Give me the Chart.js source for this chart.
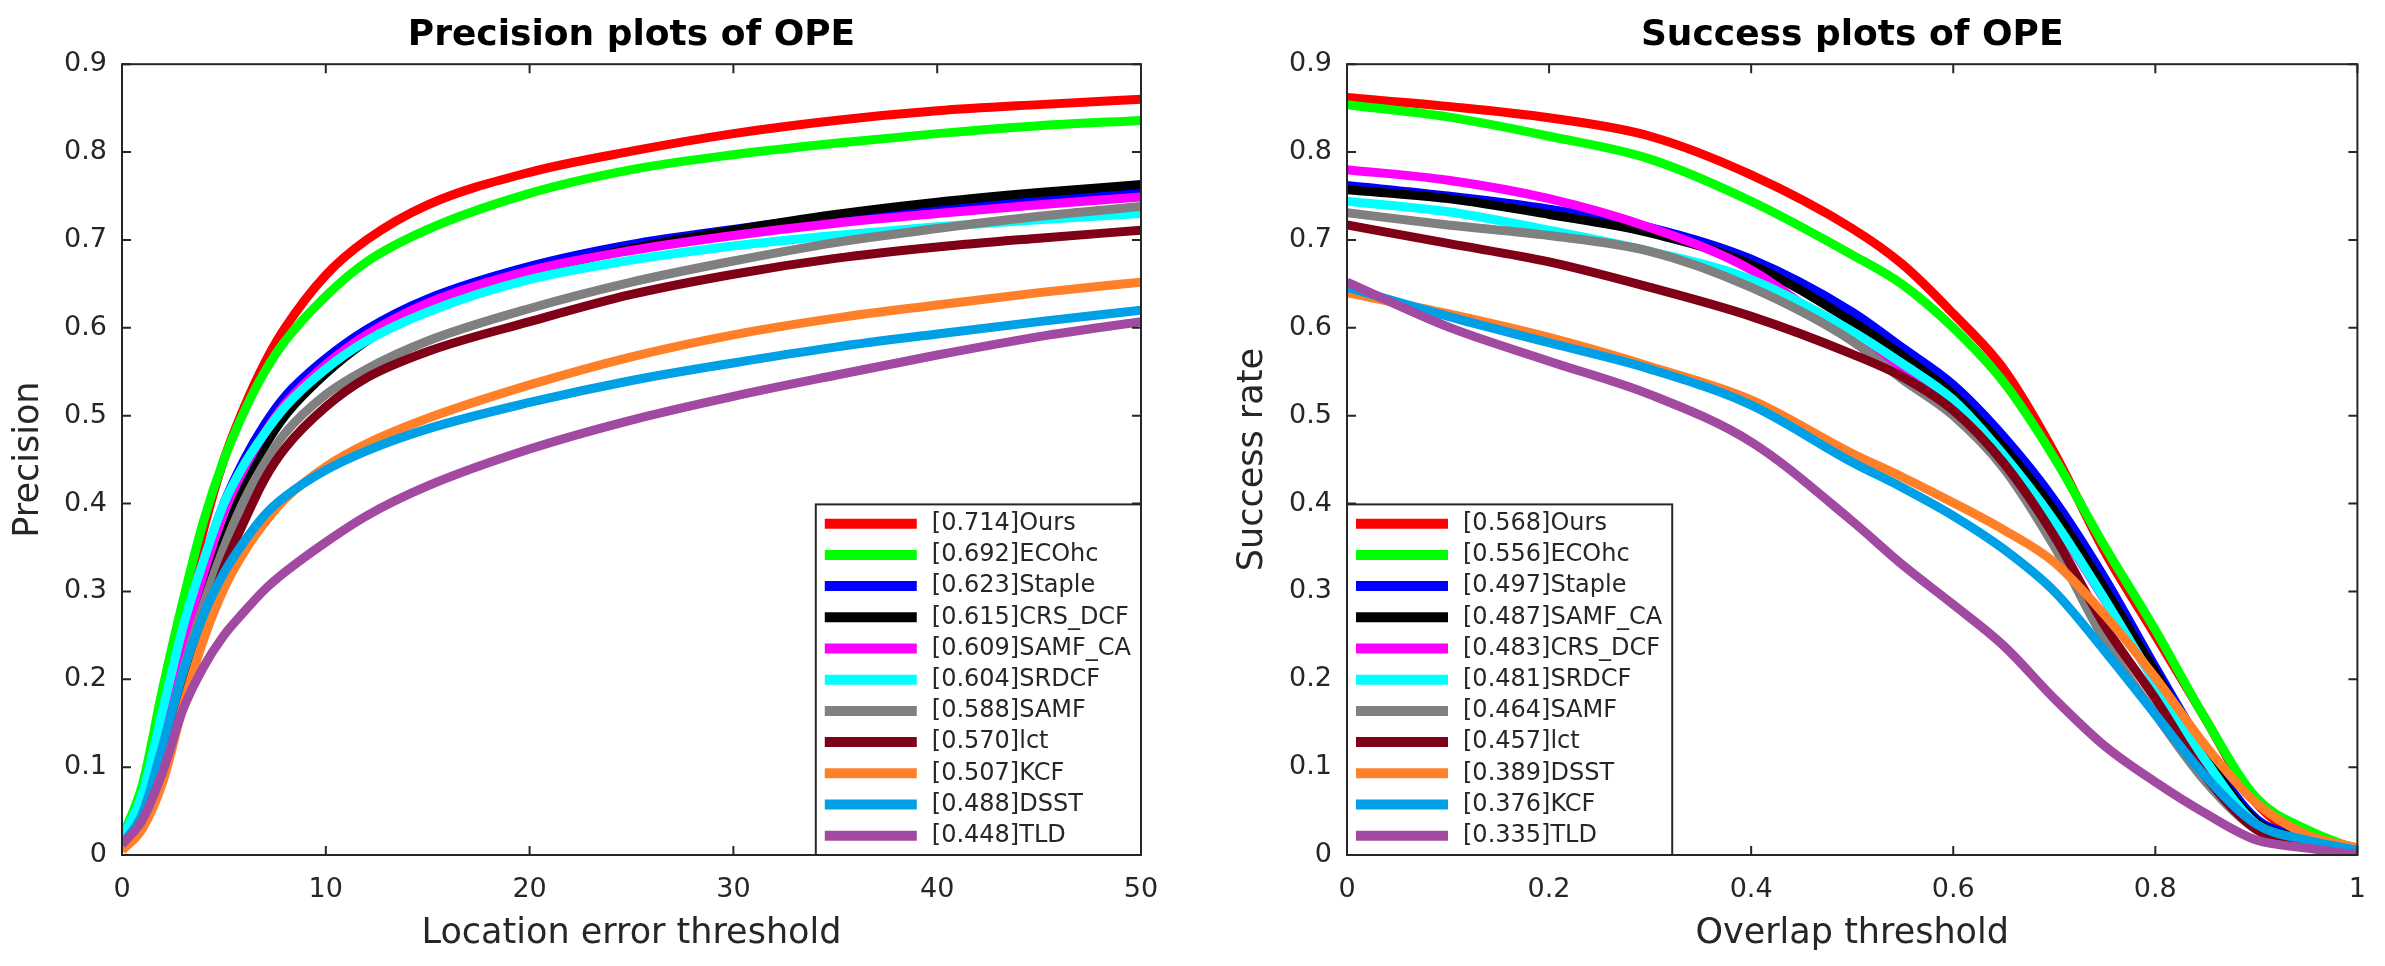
<!DOCTYPE html>
<html>
<head>
<meta charset="utf-8">
<script src="https://cdn.jsdelivr.net/npm/chart.js@4.4.1/dist/chart.umd.min.js"></script>
<style>
  html, body { margin: 0; padding: 0; background: #fff; }
  #wrap { position: relative; width: 2385px; height: 966px; }
  .pane { position: absolute; top: 0; height: 966px; }
  #left { left: 0; width: 1190px; }
  #right { left: 1190px; width: 1195px; }
</style>
</head>
<body>
<div id="wrap">
  <div class="pane" id="left"><canvas id="precChart"></canvas></div>
  <div class="pane" id="right"><canvas id="succChart"></canvas></div>
</div>
<script>
// colours go by rank, same in both plots
const rankColors = ['#ff0000', '#00ff00', '#0000ff', '#000000', '#ff00ff', '#00ffff',
                    '#808080', '#800018', '#ff8028', '#00a0e6', '#a24aa2'];

// ---- precision plot (location error threshold 0..50)
const precTrackers = ['Ours', 'ECOhc', 'Staple', 'CRS_DCF', 'SAMF_CA', 'SRDCF', 'SAMF', 'lct', 'KCF', 'DSST', 'TLD'];
const precScores = [0.714, 0.692, 0.623, 0.615, 0.609, 0.604, 0.588, 0.570, 0.507, 0.488, 0.448];
const precX = [0, 1, 2, 3, 4, 5, 6, 7, 8, 10, 12, 15, 20, 25, 30, 35, 40, 45, 50];
const precOurs    = [0.015, 0.065, 0.17, 0.27, 0.37, 0.45, 0.51, 0.56, 0.60, 0.66, 0.70, 0.74, 0.777, 0.801, 0.821, 0.836, 0.847, 0.854, 0.86];
const precECOhc   = [0.02, 0.08, 0.19, 0.29, 0.38, 0.45, 0.505, 0.55, 0.585, 0.636, 0.675, 0.712, 0.753, 0.78, 0.797, 0.81, 0.821, 0.83, 0.836];
const precStaple  = [0.015, 0.06, 0.15, 0.25, 0.333, 0.40, 0.45, 0.49, 0.522, 0.565, 0.598, 0.633, 0.67, 0.695, 0.712, 0.727, 0.738, 0.747, 0.755];
const precCRS_DCF = [0.015, 0.05, 0.12, 0.21, 0.29, 0.36, 0.42, 0.465, 0.50, 0.548, 0.585, 0.625, 0.663, 0.69, 0.711, 0.729, 0.743, 0.754, 0.763];
const precSAMF_CA = [0.015, 0.055, 0.14, 0.24, 0.32, 0.39, 0.44, 0.48, 0.513, 0.558, 0.592, 0.628, 0.665, 0.688, 0.705, 0.719, 0.73, 0.74, 0.749];
const precSRDCF   = [0.018, 0.07, 0.165, 0.26, 0.335, 0.40, 0.445, 0.48, 0.51, 0.553, 0.585, 0.618, 0.655, 0.677, 0.693, 0.705, 0.715, 0.723, 0.73];
const precSAMF    = [0.012, 0.045, 0.12, 0.21, 0.285, 0.35, 0.404, 0.446, 0.48, 0.524, 0.553, 0.585, 0.622, 0.652, 0.676, 0.697, 0.713, 0.727, 0.738];
const precLct     = [0.01, 0.04, 0.11, 0.19, 0.26, 0.327, 0.38, 0.428, 0.463, 0.51, 0.543, 0.573, 0.607, 0.638, 0.661, 0.679, 0.692, 0.702, 0.711];
const precKCF     = [0.005, 0.03, 0.083, 0.17, 0.245, 0.303, 0.345, 0.378, 0.405, 0.442, 0.468, 0.497, 0.535, 0.567, 0.592, 0.611, 0.626, 0.64, 0.652];
const precDSST    = [0.012, 0.047, 0.125, 0.208, 0.273, 0.321, 0.357, 0.387, 0.408, 0.438, 0.46, 0.485, 0.515, 0.54, 0.56, 0.578, 0.593, 0.607, 0.62];
const precTLD     = [0.012, 0.04, 0.095, 0.166, 0.214, 0.25, 0.277, 0.302, 0.322, 0.356, 0.386, 0.42, 0.462, 0.495, 0.522, 0.546, 0.569, 0.59, 0.607];
const precCurves = [precOurs, precECOhc, precStaple, precCRS_DCF, precSAMF_CA, precSRDCF, precSAMF, precLct, precKCF, precDSST, precTLD];

// ---- success plot (overlap threshold 0..1)
const succTrackers = ['Ours', 'ECOhc', 'Staple', 'SAMF_CA', 'CRS_DCF', 'SRDCF', 'SAMF', 'lct', 'DSST', 'KCF', 'TLD'];
const succScores = [0.568, 0.556, 0.497, 0.487, 0.483, 0.481, 0.464, 0.457, 0.389, 0.376, 0.335];
const succX = [0, 0.1, 0.2, 0.3, 0.4, 0.5, 0.55, 0.6, 0.65, 0.7, 0.75, 0.8, 0.85, 0.9, 0.95, 1];
const succOurs    = [0.862, 0.852, 0.839, 0.818, 0.774, 0.713, 0.672, 0.616, 0.553, 0.458, 0.345, 0.25, 0.154, 0.059, 0.02, 0.005];
const succECOhc   = [0.854, 0.84, 0.818, 0.792, 0.744, 0.683, 0.649, 0.60, 0.538, 0.452, 0.351, 0.256, 0.154, 0.065, 0.029, 0.006];
const succStaple  = [0.762, 0.75, 0.735, 0.714, 0.678, 0.618, 0.577, 0.535, 0.476, 0.404, 0.315, 0.214, 0.118, 0.041, 0.02, 0.005];
const succSAMF_CA = [0.757, 0.747, 0.729, 0.708, 0.672, 0.607, 0.568, 0.524, 0.464, 0.392, 0.303, 0.208, 0.112, 0.038, 0.018, 0.005];
const succCRS_DCF = [0.78, 0.768, 0.747, 0.714, 0.666, 0.585, 0.548, 0.51, 0.45, 0.378, 0.29, 0.196, 0.105, 0.035, 0.016, 0.004];
const succSRDCF   = [0.744, 0.732, 0.711, 0.687, 0.655, 0.596, 0.559, 0.518, 0.455, 0.38, 0.291, 0.196, 0.107, 0.035, 0.016, 0.004];
const succSAMF    = [0.731, 0.717, 0.705, 0.687, 0.646, 0.585, 0.541, 0.50, 0.44, 0.351, 0.244, 0.16, 0.083, 0.029, 0.013, 0.003];
const succLct     = [0.717, 0.696, 0.675, 0.646, 0.613, 0.57, 0.544, 0.506, 0.446, 0.363, 0.261, 0.178, 0.089, 0.029, 0.013, 0.003];
const succDSST    = [0.64, 0.616, 0.589, 0.556, 0.518, 0.457, 0.43, 0.401, 0.37, 0.333, 0.273, 0.202, 0.124, 0.059, 0.023, 0.008];
const succKCF     = [0.646, 0.613, 0.583, 0.553, 0.512, 0.447, 0.418, 0.386, 0.348, 0.30, 0.232, 0.16, 0.089, 0.035, 0.017, 0.005];
const succTLD     = [0.652, 0.601, 0.562, 0.524, 0.47, 0.38, 0.33, 0.285, 0.238, 0.178, 0.124, 0.083, 0.047, 0.017, 0.008, 0];
const succCurves = [succOurs, succECOhc, succStaple, succSAMF_CA, succCRS_DCF, succSRDCF, succSAMF, succLct, succDSST, succKCF, succTLD];

const FONT = "'DejaVu Sans', sans-serif";
const INK = '#262626';

// matlab style box with inward ticks on all four sides
const matlabAxes = {
  id: 'matlabAxes',
  afterDatasetsDraw(chart) {
    const { ctx, chartArea: a, scales: { x, y } } = chart;
    ctx.save();
    ctx.strokeStyle = INK;
    ctx.lineWidth = 2;
    ctx.beginPath();
    x.ticks.forEach(t => {
      const px = x.getPixelForValue(t.value);
      ctx.moveTo(px, a.bottom); ctx.lineTo(px, a.bottom - 9);
      ctx.moveTo(px, a.top); ctx.lineTo(px, a.top + 9);
    });
    y.ticks.forEach(t => {
      const py = y.getPixelForValue(t.value);
      ctx.moveTo(a.left, py); ctx.lineTo(a.left + 9, py);
      ctx.moveTo(a.right, py); ctx.lineTo(a.right - 9, py);
    });
    ctx.stroke();
    ctx.strokeRect(a.left, a.top, a.right - a.left, a.bottom - a.top);
    ctx.restore();
  }
};

// legend box sitting in a bottom corner of the plot area
const boxLegend = {
  id: 'boxLegend',
  afterDraw(chart, args, opts) {
    const { ctx, chartArea: a } = chart;
    const sets = chart.data.datasets;
    ctx.save();
    ctx.font = '24px ' + FONT;
    const textW = Math.max(...sets.map(d => ctx.measureText(d.label).width));
    const rowH = 31.2, padY = 19.3;
    const w = 9 + 92 + 15 + textW + 10;
    const h = padY * 2 + rowH * (sets.length - 1);
    const left = opts.side === 'right' ? a.right - w : a.left;
    const top = a.bottom - h;
    ctx.fillStyle = '#fff';
    ctx.fillRect(left, top, w, h);
    ctx.strokeStyle = INK;
    ctx.lineWidth = 2;
    ctx.strokeRect(left, top, w, h);
    sets.forEach((d, i) => {
      const cy = top + padY + i * rowH;
      ctx.strokeStyle = d.borderColor;
      ctx.lineWidth = 10;
      ctx.beginPath();
      ctx.moveTo(left + 9, cy);
      ctx.lineTo(left + 101, cy);
      ctx.stroke();
      ctx.fillStyle = INK;
      ctx.textBaseline = 'middle';
      ctx.textAlign = 'left';
      ctx.fillText(d.label, left + 116, cy);
    });
    ctx.restore();
  }
};

function buildSets(names, scores, xs, curves) {
  return names.map((name, i) => ({
    label: '[' + scores[i].toFixed(3) + ']' + name,
    data: xs.map((x, k) => ({ x: x, y: curves[i][k] })),
    borderColor: rankColors[i],
    backgroundColor: rankColors[i],
    order: names.length - i   // later ranks drawn on top, like the matlab figure
  }));
}

// 0, 0.2, ... 1 instead of 0.0 / 1.0
const plainTick = v => String(+Number(v).toFixed(2));

function makeChart(id, cfg) {
  return new Chart(document.getElementById(id), {
    type: 'line',
    data: { datasets: cfg.datasets },
    plugins: [matlabAxes, boxLegend],
    options: {
      responsive: true,
      maintainAspectRatio: false,
      animation: false,
      devicePixelRatio: 1,
      layout: { padding: { left: 0, right: cfg.padRight, top: 0, bottom: 0 } },
      elements: {
        point: { radius: 0, hoverRadius: 0 },
        line: { borderWidth: 9, cubicInterpolationMode: 'monotone', borderJoinStyle: 'round', fill: false }
      },
      plugins: {
        legend: { display: false },
        tooltip: { enabled: false },
        title: {
          display: true, fullSize: false, text: cfg.title, color: '#000',
          font: { family: FONT, size: 36, weight: 'bold' },
          padding: { top: 14, bottom: 7 }
        },
        boxLegend: { side: cfg.legendSide }
      },
      scales: {
        x: {
          type: 'linear', min: cfg.xMin, max: cfg.xMax,
          grid: { display: false, drawTicks: false },
          border: { display: false },
          ticks: { stepSize: cfg.xStep, color: INK, font: { family: FONT, size: 27 }, padding: 19, maxRotation: 0, autoSkip: false, callback: plainTick },
          title: { display: true, text: cfg.xTitle, color: INK, font: { family: FONT, size: 35 }, padding: { top: 0, bottom: 11 } },
          afterFit(s) { s.height = 111; }
        },
        y: {
          type: 'linear', min: 0, max: 0.9,
          grid: { display: false, drawTicks: false },
          border: { display: false },
          ticks: { stepSize: 0.1, color: INK, font: { family: FONT, size: 27 }, padding: 15, callback: plainTick },
          title: { display: true, text: cfg.yTitle, color: INK, font: { family: FONT, size: 35 }, padding: { top: cfg.yTitlePad, bottom: 0 } },
          afterFit(s) { s.width = cfg.yWidth; }
        }
      }
    }
  });
}

makeChart('precChart', {
  datasets: buildSets(precTrackers, precScores, precX, precCurves),
  title: 'Precision plots of OPE',
  xTitle: 'Location error threshold',
  yTitle: 'Precision',
  xMin: 0, xMax: 50, xStep: 10,
  yWidth: 122, yTitlePad: 8, padRight: 49,
  legendSide: 'right'
});

makeChart('succChart', {
  datasets: buildSets(succTrackers, succScores, succX, succCurves),
  title: 'Success plots of OPE',
  xTitle: 'Overlap threshold',
  yTitle: 'Success rate',
  xMin: 0, xMax: 1, xStep: 0.2,
  yWidth: 157, yTitlePad: 42, padRight: 20,
  legendSide: 'left'
});
</script>
</body>
</html>
